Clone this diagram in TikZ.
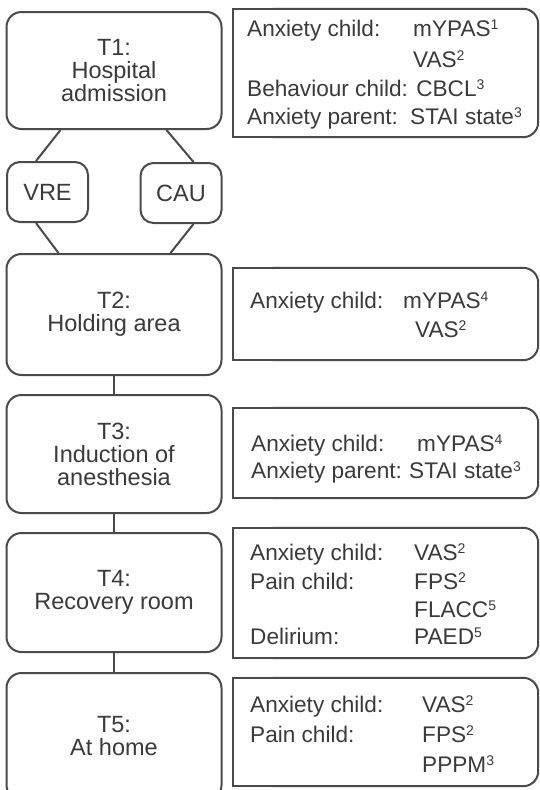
\documentclass[tikz,border=0pt]{standalone}
\usepackage{fontspec}
\setmainfont{Liberation Sans}
\usetikzlibrary{calc}
\definecolor{txt}{HTML}{3A3A3A}
\definecolor{ln}{HTML}{4A4A4A}
\newcommand{\sps}[1]{\raisebox{7pt}{\fontsize{14}{14}\selectfont #1}}
\begin{document}
\begin{tikzpicture}[x=1pt,y=-1pt,
  every node/.style={text=txt},
  lbox/.style={draw=ln, line width=2pt, rounded corners=15pt, inner sep=0pt,
    align=center, minimum width=215pt, font=\fontsize{23.5}{23}\selectfont},
  sbox/.style={draw=ln, line width=2pt, rounded corners=13pt, inner sep=0pt,
    minimum width=81pt, minimum height=60pt, font=\fontsize{23.5}{24}\selectfont},
  rarea/.style={inner sep=0pt, minimum width=305pt},
  lab/.style={anchor=base west, inner sep=0pt, font=\fontsize{22.6}{24}\selectfont},
  conn/.style={draw=ln, line width=2pt},
  rline/.style={draw=ln, line width=2pt}]
\useasboundingbox (0,0) rectangle (540,790);
\clip (0,0) rectangle (540,790);
\fill[white] (0,0) rectangle (540,790);

% left column
\node[lbox, minimum height=117pt] (t1) at (114,70.5) {T1:\\Hospital\\admission};
\node[sbox] (vre) at (47.5,192) {VRE};
\node[sbox] (cau) at (181,193) {CAU};
\node[lbox, minimum height=121pt] (t2) at (114,314.5) {T2:\\Holding area};
\node[lbox, minimum height=118pt] (t3) at (114,454) {T3:\\Induction of\\anesthesia};
\node[lbox, minimum height=119pt] (t4) at (114,592.5) {T4:\\Recovery room};
\node[lbox, minimum height=127pt] (t5) at (114,736.5) {T5:\\At home};

% connectors
\draw[conn] ($(t1.south west)+(55,0)$) -- ($(vre.north west)+(30,0)$);
\draw[conn] ($(t1.south west)+(161,0)$) -- ($(cau.north west)+(54,0)$);
\draw[conn] ($(vre.south west)+(30,0)$) -- ($(t2.north west)+(53,0)$);
\draw[conn] ($(cau.south west)+(54,0)$) -- ($(t2.north west)+(165,0)$);
\draw[conn] (t2.south) -- (t3.north);
\draw[conn] (t3.south) -- (t4.north);
\draw[conn] (t4.south) -- (t5.north);

% right boxes
\node[rarea, minimum height=128pt] (r1) at (385.5,73) {};
\node[rarea, minimum height=92pt] (r2) at (385.5,314) {};
\node[rarea, minimum height=90pt] (r3) at (385.5,453) {};
\node[rarea, minimum height=130pt] (r4) at (385.5,593) {};
\node[rarea, minimum height=108pt] (r5) at (385.5,732) {};
\foreach \n in {r1,r2,r3,r4,r5}{
  \draw[rline, rounded corners=15pt] ($(\n.north west)+(40,0)$) -- (\n.north east) -- (\n.south east) -- ($(\n.south west)+(40,0)$);
  \draw[rline] ($(\n.north west)+(40,0)$) -- (\n.north west) -- (\n.south west) -- ($(\n.south west)+(40,0)$);
}

% texts box 1
\node[lab] (a1) at (247,36) {Anxiety child:};
\node[lab] (a1v) at (413,36) {mYPAS\sps{1}};
\node[lab] (a2v) at (413,67) {VAS\sps{2}};
\node[lab] (a3) at (247,96) {Behaviour child: CBCL\sps{3}};
\node[lab] (a4) at (247,124) {Anxiety parent:};
\node[lab] (a4v) at (410,124) {STAI state\sps{3}};
% box 2
\node[lab] (b1) at (250,308) {Anxiety child:};
\node[lab] (b1v) at (403,308) {mYPAS\sps{4}};
\node[lab] (b2v) at (415,337) {VAS\sps{2}};
% box 3
\node[lab] (c1) at (251,451) {Anxiety child:};
\node[lab] (c1v) at (417,451) {mYPAS\sps{4}};
\node[lab] (c2) at (251,478) {Anxiety parent:};
\node[lab] (c2v) at (409,478) {STAI state\sps{3}};
% box 4
\node[lab] (d1) at (250,560) {Anxiety child:};
\node[lab] (d1v) at (414,560) {VAS\sps{2}};
\node[lab] (d2) at (250,589) {Pain child:};
\node[lab] (d2v) at (414,589) {FPS\sps{2}};
\node[lab] (d3v) at (414,617) {FLACC\sps{5}};
\node[lab] (d4) at (250,644) {Delirium:};
\node[lab] (d4v) at (414,644) {PAED\sps{5}};
% box 5
\node[lab] (e1) at (250,712) {Anxiety child:};
\node[lab] (e1v) at (422,712) {VAS\sps{2}};
\node[lab] (e2) at (250,742) {Pain child:};
\node[lab] (e2v) at (422,742) {FPS\sps{2}};
\node[lab] (e3v) at (422,772) {PPPM\sps{3}};
\end{tikzpicture}
\end{document}
